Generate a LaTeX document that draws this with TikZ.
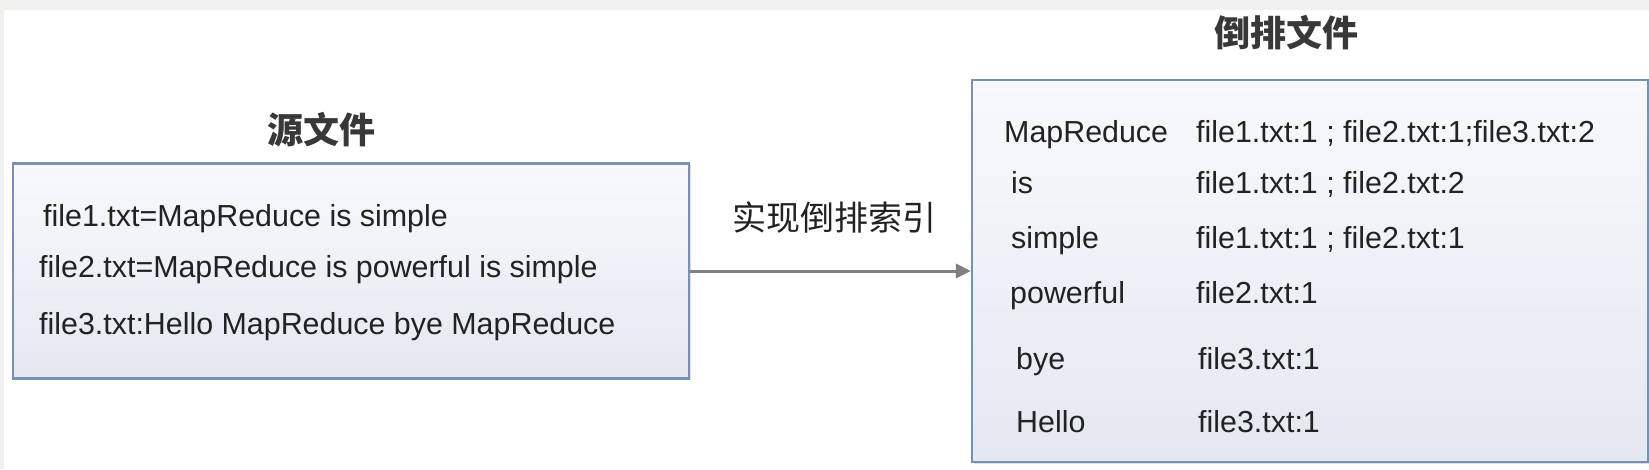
\documentclass[tikz,border=0pt]{standalone}
\usepackage{fontspec}
\setmainfont{Liberation Sans}
\newfontfamily\cjk{Noto Sans CJK SC}
\usetikzlibrary{arrows.meta,shadows}
\definecolor{bordercol}{HTML}{7890B4}
\definecolor{filltop}{HTML}{F8F9FC}
\definecolor{fillbot}{HTML}{E3E8F1}
\definecolor{bandcol}{HTML}{F1F0EE}
\definecolor{arrowcol}{HTML}{808080}
\definecolor{textcol}{HTML}{222222}
\tikzset{
  panel/.style={draw=bordercol, line width=2.2pt, top color=filltop, bottom color=fillbot,
    drop shadow={shadow xshift=1.5pt, shadow yshift=-1.5pt, opacity=0.25}, inner sep=0pt},
  txt/.style={anchor=base west, inner sep=0pt, text=textcol, font=\fontsize{30.4}{36}\selectfont},
  title/.style={anchor=center, inner sep=0pt, text=textcol!90!white, font=\cjk\bfseries\fontsize{36}{40}\selectfont},
  cnlabel/.style={inner sep=0pt, text=textcol, font=\cjk\fontsize{34}{38}\selectfont},
  flow/.style={draw=arrowcol, line width=3pt, -{Triangle[length=15pt,width=14pt]}}
}
\begin{document}
\begin{tikzpicture}[x=1pt,y=-1pt]
\useasboundingbox (0,0) rectangle (1649,469);
\fill[white] (0,0) rectangle (1649,469);
\fill[bandcol] (0,0) rectangle (1649,10);
\fill[bandcol] (0,0) rectangle (4,469);

% boxes
\node[panel, minimum width=676pt, minimum height=215pt] (src) at (351,271) {};
\node[panel, minimum width=676pt, minimum height=382pt] (inv) at (1310,271) {};

% titles
\node[title] (srct) at (321,130) {源文件};
\node[title] (invt) at (1286,33) {倒排文件};

% source texts
\node[txt] (s1) at (43,226) {file1.txt=MapReduce is simple};
\node[txt] (s2) at (39,277) {file2.txt=MapReduce is powerful is simple};
\node[txt] (s3) at (39,334) {file3.txt:Hello MapReduce bye MapReduce};

% inverted index rows
\node[txt] (w1) at (1004,142) {MapReduce};
\node[txt] (v1) at (1196,142) {file1.txt:1 ; file2.txt:1;file3.txt:2};
\node[txt] (w2) at (1011,193) {is};
\node[txt] (v2) at (1196,193) {file1.txt:1 ; file2.txt:2};
\node[txt] (w3) at (1011,248) {simple};
\node[txt] (v3) at (1196,248) {file1.txt:1 ; file2.txt:1};
\node[txt] (w4) at (1010,303) {powerful};
\node[txt] (v4) at (1196,303) {file2.txt:1};
\node[txt] (w5) at (1016,369) {bye};
\node[txt] (v5) at (1198,369) {file3.txt:1};
\node[txt] (w6) at (1016,432) {Hello};
\node[txt] (v6) at (1198,432) {file3.txt:1};

% connector
\draw[flow] (src.east) -- (inv.west)
  node[cnlabel, midway, yshift=53pt, xshift=4pt] (lab) {实现倒排索引};
\end{tikzpicture}
\end{document}
